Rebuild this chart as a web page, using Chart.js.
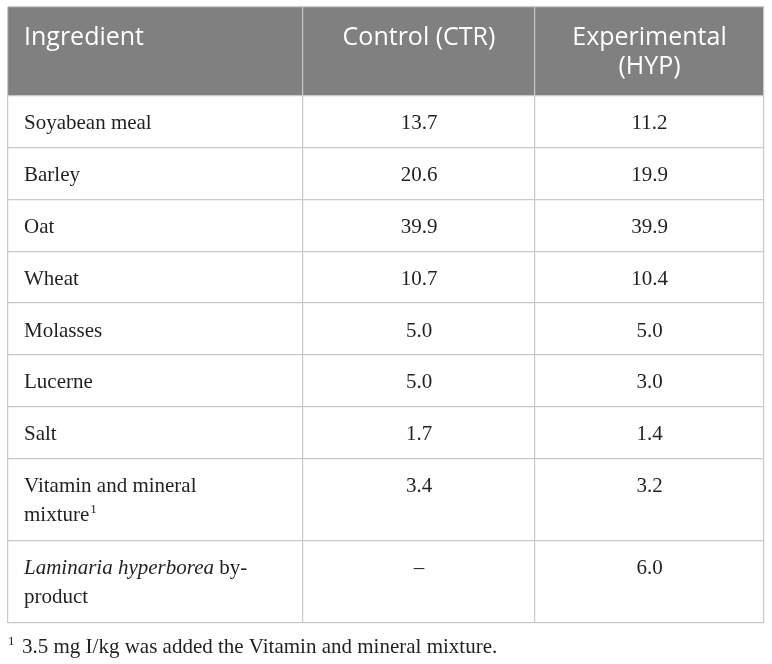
<!DOCTYPE html>
<html>
<head>
<meta charset="utf-8">
<script src="https://cdn.jsdelivr.net/npm/chart.js@4/dist/chart.umd.min.js"></script>
<style>
    html, body { margin: 0; padding: 0; background: #fff; }
    #contenedor { width: 772px; height: 664px; position: relative; }
</style>
</head>
<body>
<div id="contenedor"><canvas id="tablaDieta"></canvas></div>
<script>
// Datos de la tabla
const encabezados = ['Ingredient', 'Control (CTR)', 'Experimental\n(HYP)'];
const ingredientes = ['Soyabean meal', 'Barley', 'Oat', 'Wheat', 'Molasses', 'Lucerne', 'Salt',
    'Vitamin and mineral\nmixture', '*Laminaria hyperborea* by-\nproduct'];
const notasIngrediente = ['', '', '', '', '', '', '', '1', ''];
const controlCTR = [13.7, 20.6, 39.9, 10.7, 5.0, 5.0, 1.7, 3.4, null];
const experimentalHYP = [11.2, 19.9, 39.9, 10.4, 5.0, 3.0, 1.4, 3.2, 6.0];
const marcaNota = '1';
const textoNota = '3.5 mg I/kg was added the Vitamin and mineral mixture.';

// Disposicion
const anchoColumnas = [295, 232, 229];
const altoEncabezado = 1.70;
const altoLineaExtra = 0.58;

const bordesX = [0];
anchoColumnas.forEach(w => bordesX.push(bordesX[bordesX.length - 1] + w));
const bordesY = [0, altoEncabezado];
ingredientes.forEach(t => {
    const n = t.split('\n').length;
    bordesY.push(bordesY[bordesY.length - 1] + 1 + altoLineaExtra * (n - 1));
});

const fuenteEnc = '25px "Open Sans"';
const tamCuerpo = 21;
const fuenteCuerpo = tamCuerpo + 'px "Liberation Serif"';
const fuenteSuper = '13px "Liberation Serif"';
const colorTexto = '#231f20';

function formatoValor(v) {
    return v === null ? '\u2013' : v.toFixed(1);
}

// dibuja una linea con tramos en cursiva marcados con *...*
function dibujarLinea(ctx, linea, x, y, alinear, tamano) {
    const partes = linea.split('*');
    const fuentes = partes.map((p, i) => (i % 2 === 1 ? 'italic ' : '') + tamano + 'px "Liberation Serif"');
    let ancho = 0;
    partes.forEach((p, i) => { ctx.font = fuentes[i]; ancho += ctx.measureText(p).width; });
    let cx = alinear === 'center' ? x - ancho / 2 : x;
    ctx.textAlign = 'left';
    partes.forEach((p, i) => {
        ctx.font = fuentes[i];
        ctx.fillText(p, cx, y);
        cx += ctx.measureText(p).width;
    });
    return cx;
}

const pluginTabla = {
    id: 'pluginTabla',
    beforeDraw(chart) {
        const { ctx, scales: { x, y } } = chart;
        const x0 = x.getPixelForValue(bordesX[0]);
        const x1 = x.getPixelForValue(bordesX[bordesX.length - 1]);
        const y0 = y.getPixelForValue(bordesY[0]);
        const y1 = y.getPixelForValue(bordesY[1]);
        ctx.save();
        ctx.fillStyle = '#808080';
        ctx.fillRect(x0, y0, x1 - x0, y1 - y0);
        ctx.restore();
    },
    afterDraw(chart) {
        const { ctx, scales: { x, y } } = chart;
        ctx.save();
        ctx.textBaseline = 'alphabetic';

        // encabezado
        ctx.font = fuenteEnc;
        ctx.fillStyle = '#ffffff';
        const yEnc = y.getPixelForValue(bordesY[0]);
        encabezados.forEach((t, c) => {
            const izq = x.getPixelForValue(bordesX[c]);
            const der = x.getPixelForValue(bordesX[c + 1]);
            t.split('\n').forEach((l, k) => {
                if (c === 0) {
                    ctx.textAlign = 'left';
                    ctx.fillText(l, izq + 16, yEnc + 38 + k * 29);
                } else {
                    ctx.textAlign = 'center';
                    ctx.fillText(l, (izq + der) / 2, yEnc + 38 + k * 29);
                }
            });
        });

        // cuerpo
        ctx.fillStyle = colorTexto;
        ingredientes.forEach((t, f) => {
            const arriba = y.getPixelForValue(bordesY[f + 1]);
            const base = arriba + 33.5;
            const lineas = t.split('\n');
            let finX = 0;
            lineas.forEach((l, k) => {
                finX = dibujarLinea(ctx, l, x.getPixelForValue(bordesX[0]) + 16, base + k * 28.5, 'left', tamCuerpo);
            });
            if (notasIngrediente[f]) {
                ctx.font = fuenteSuper;
                ctx.textAlign = 'left';
                ctx.fillText(notasIngrediente[f], finX + 1, base + (lineas.length - 1) * 28.5 - 8);
            }
            [controlCTR, experimentalHYP].forEach((serie, s) => {
                const izq = x.getPixelForValue(bordesX[s + 1]);
                const der = x.getPixelForValue(bordesX[s + 2]);
                ctx.font = fuenteCuerpo;
                ctx.textAlign = 'center';
                ctx.fillText(formatoValor(serie[f]), (izq + der) / 2, base);
            });
        });

        // nota al pie
        const yNota = y.getPixelForValue(bordesY[bordesY.length - 1]) + 30;
        const xNota = x.getPixelForValue(bordesX[0]);
        ctx.textAlign = 'left';
        ctx.font = fuenteSuper;
        ctx.fillText(marcaNota, xNota, yNota - 8);
        ctx.font = fuenteCuerpo;
        ctx.fillText(textoNota, xNota + 14, yNota);
        ctx.restore();
    }
};

const ejeTabla = (bordes, invertir) => ({
    type: 'linear',
    reverse: invertir,
    min: 0,
    max: bordes[bordes.length - 1],
    afterBuildTicks: s => { s.ticks = bordes.map(v => ({ value: v })); },
    ticks: { display: false },
    grid: { color: '#c9c9c9', lineWidth: 1.2, drawTicks: false },
    border: { display: false }
});

new Chart(document.getElementById('tablaDieta'), {
    type: 'scatter',
    data: { datasets: [{ data: [] }] },
    options: {
        responsive: true,
        maintainAspectRatio: false,
        animation: false,
        layout: { padding: { left: 8, right: 8, top: 7, bottom: 41 } },
        plugins: { legend: { display: false }, tooltip: { enabled: false } },
        scales: {
            x: ejeTabla(bordesX, false),
            y: ejeTabla(bordesY, true)
        }
    },
    plugins: [pluginTabla]
});
</script>
</body>
</html>
